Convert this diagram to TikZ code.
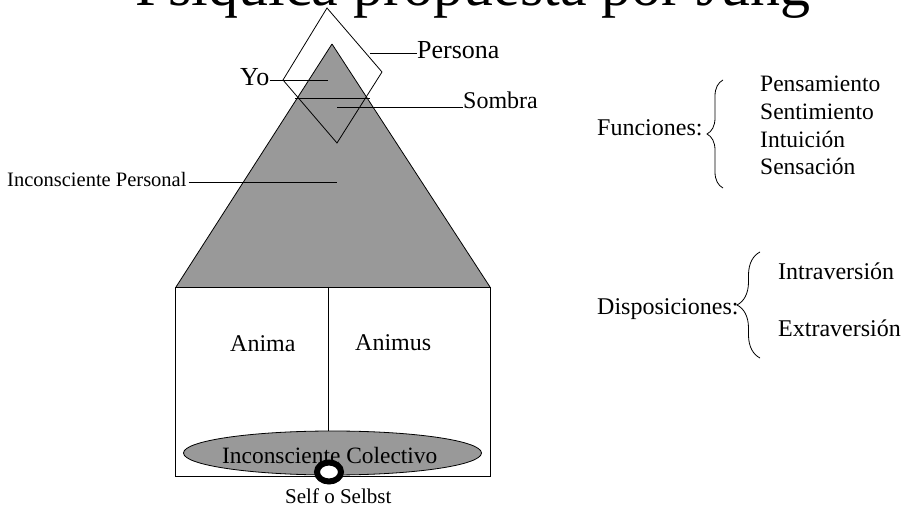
\documentclass[tikz,border=0pt]{standalone}
\usepackage{fontspec}
\setmainfont{Liberation Serif}
\usetikzlibrary{decorations.pathreplacing}
\definecolor{trigray}{HTML}{999999}
\begin{document}
\begin{tikzpicture}[x=1pt,y=-1pt,
  lbl/.style={anchor=base west, inner sep=0pt, font=\fontsize{24}{28}\selectfont},
  big/.style={font=\fontsize{26}{30}\selectfont},
  small/.style={font=\fontsize{20.5}{24}\selectfont},
  edge/.style={draw=black, line width=0.8pt},
  bracket/.style={draw=black, line width=0.8pt, decorate, decoration={brace, amplitude=#1}}
]
\useasboundingbox (0,0) rectangle (906,513);
\fill[white] (0,0) rectangle (906,513);

% title (cut off at the top, as in the reference)
\node[lbl, font=\fontsize{60}{70}\selectfont] (title) at (135,6) {Psíquica propuesta por Jung};

% triangle and box
\fill[trigray] (332,44) -- (490,287) -- (176,287) -- cycle;
\draw[edge] (332,44) -- (490,287);
\draw[edge] (332,44) -- (176,287);
\draw[edge] (175,287) rectangle (490,476);
\draw[edge] (328,287) -- (328,432);

% collective unconscious
\filldraw[edge, fill=trigray] (332.5,453) ellipse [x radius=149pt, y radius=22pt];
\node[lbl, font=\fontsize{23.4}{28}\selectfont] (colectivo) at (222,463) {Inconsciente Colectivo};
\filldraw[draw=black, fill=white, line width=6pt] (329,472) ellipse [x radius=12pt, y radius=9.5pt];
\node[lbl, font=\fontsize{21}{25}\selectfont] (self) at (285,503) {Self o Selbst};

% persona diamond and divider
\draw[edge] (327,8) -- (382,72) -- (337,143) -- (283,80) -- cycle;
\draw[edge] (295,98) -- (370,98);

% labels on the figure
\node[lbl, big] (persona) at (417,59) {Persona};
\coordinate (perE) at (370,53);
\draw[edge] (persona.west |- perE) -- (perE);

\node[lbl, big] (yo) at (240,86) {Yo};
\coordinate (yoE) at (328,80);
\draw[edge] (yo.east |- yoE) -- (yoE);

\node[lbl] (sombra) at (463,109) {Sombra};
\coordinate (somE) at (337,107);
\draw[edge] (sombra.west |- somE) -- (somE);

\node[lbl, small] (ip) at (7,187) {Inconsciente Personal};
\coordinate (ipE) at (337,182);
\draw[edge] ([xshift=2pt]ip.east |- ipE) -- (ipE);

\node[lbl] (anima) at (230,352) {Anima};
\node[lbl] (animus) at (355,351) {Animus};

% right side
\node[lbl] (funciones) at (597,136) {Funciones:};
\draw[bracket=16pt] (723,188) -- (723,80);
\node[lbl, font=\fontsize{23.5}{28}\selectfont] (f1) at (760,92) {Pensamiento};
\node[lbl, font=\fontsize{23.5}{28}\selectfont] (f2) at (760,120) {Sentimiento};
\node[lbl, font=\fontsize{23.5}{28}\selectfont] (f3) at (760,147.5) {Intuición};
\node[lbl, font=\fontsize{23.5}{28}\selectfont] (f4) at (760,175) {Sensación};

\node[lbl] (disp) at (597,315) {Disposiciones:};
\draw[bracket=23pt] (760,358) -- (760,252);
\node[lbl] (d1) at (778,280) {Intraversión};
\node[lbl] (d2) at (778,337) {Extraversión};
\end{tikzpicture}
\end{document}
